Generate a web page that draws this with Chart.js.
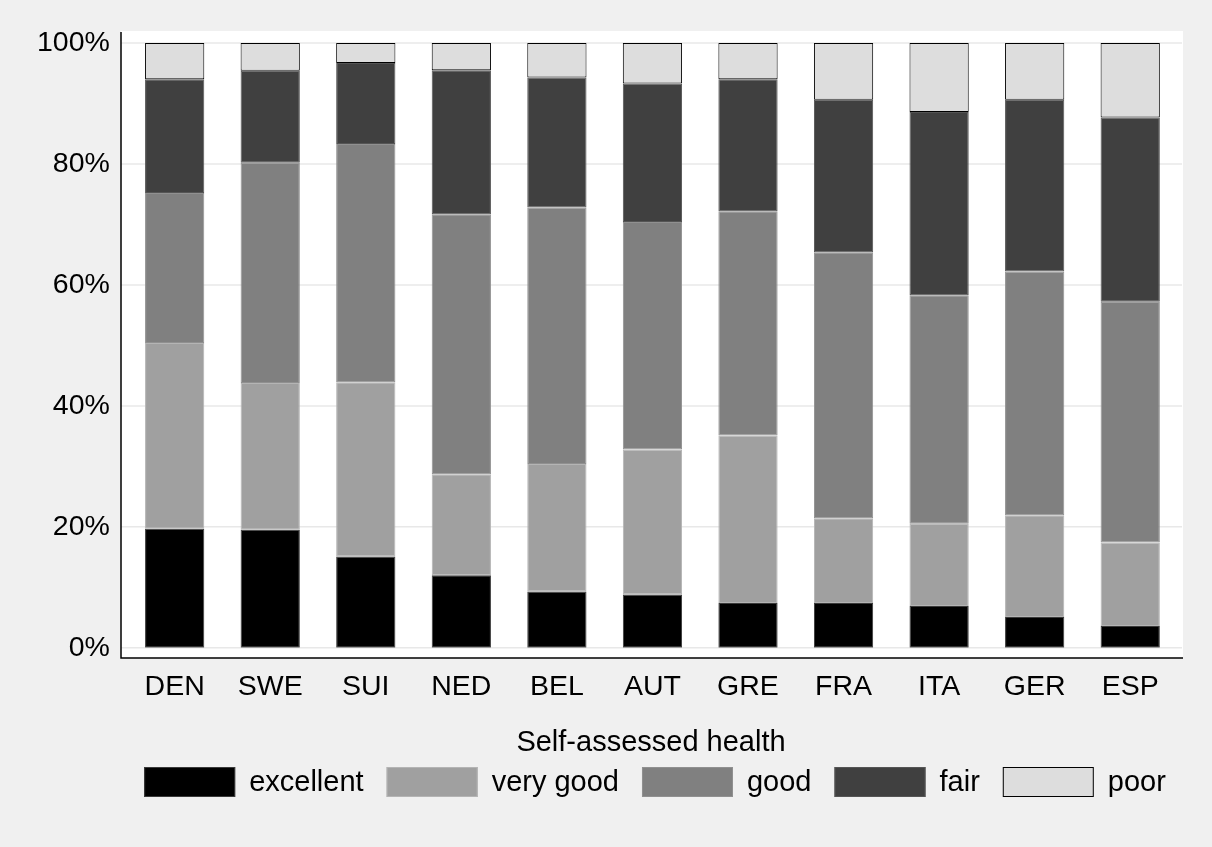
<!DOCTYPE html>
<html>
<head>
<meta charset="utf-8">
<script src="https://cdn.jsdelivr.net/npm/chart.js@4"></script>
<style>
  html, body { margin: 0; padding: 0; background: #f0f0f0; }
  canvas { display: block; }
</style>
</head>
<body>
<canvas id="healthChart" width="1212" height="847"></canvas>
<script>
// countries and share (%) of each answer
const countries = ['DEN', 'SWE', 'SUI', 'NED', 'BEL', 'AUT', 'GRE', 'FRA', 'ITA', 'GER', 'ESP'];
const excellent = [19.7, 19.5, 15.1, 12.0, 9.3, 8.8, 7.4, 7.4, 6.9, 5.1, 3.6];
const veryGood  = [30.7, 24.3, 28.8, 16.7, 21.1, 24.0, 27.7, 14.0, 13.6, 16.8, 13.8];
const good      = [24.8, 36.4, 39.4, 43.0, 42.4, 37.6, 37.1, 44.0, 37.8, 40.3, 39.8];
const fair      = [18.8, 15.2, 13.4, 23.8, 21.5, 22.9, 21.8, 25.2, 30.3, 28.4, 30.5];
const poor      = [6.0, 4.6, 3.3, 4.5, 5.7, 6.7, 6.0, 9.4, 11.4, 9.4, 12.3];
const yTicks = [0, 20, 40, 60, 80, 100];
const legendTitle = 'Self-assessed health';

const fontFam = '"Liberation Sans", Arial, sans-serif';

// Stata-like plot region, grid lines and axis lines
const plotRegion = {
    id: 'plotRegion',
    beforeDraw(chart) {
        const ctx = chart.ctx;
        ctx.save();
        ctx.fillStyle = '#f0f0f0';
        ctx.fillRect(0, 0, chart.width, chart.height);
        ctx.fillStyle = '#ffffff';
        ctx.fillRect(121, 31, 1062, 627);
        const y = chart.scales.y;
        ctx.strokeStyle = '#e8e8e8';
        ctx.lineWidth = 1.5;
        y.ticks.forEach(t => {
            const py = y.getPixelForValue(t.value);
            ctx.beginPath();
            ctx.moveTo(121, py);
            ctx.lineTo(1182, py);
            ctx.stroke();
        });
        ctx.restore();
    },
    afterDraw(chart) {
        const ctx = chart.ctx;
        ctx.save();
        ctx.strokeStyle = '#000000';
        ctx.lineWidth = 1.5;
        ctx.beginPath();
        ctx.moveTo(121, 32);
        ctx.lineTo(121, 658);
        ctx.lineTo(1183, 658);
        ctx.stroke();
        ctx.restore();
    }
};

// legend under the plot, centred on the plot region
const bottomLegend = {
    id: 'bottomLegend',
    afterDraw(chart) {
        const ctx = chart.ctx;
        const sets = chart.data.datasets;
        const boxW = 91, boxH = 30, textGap = 14, itemGap = 23;
        ctx.save();
        ctx.font = '29px ' + fontFam;
        ctx.fillStyle = '#000';
        ctx.textBaseline = 'middle';
        ctx.textAlign = 'center';
        ctx.fillText(legendTitle, 651, 743);

        ctx.textAlign = 'left';
        const widths = sets.map(ds => boxW + textGap + ctx.measureText(ds.label).width);
        const total = widths.reduce((a, b) => a + b, 0) + itemGap * (sets.length - 1);
        let x = 655 - total / 2;
        const top = 767;
        sets.forEach((ds, i) => {
            ctx.fillStyle = ds.backgroundColor;
            ctx.fillRect(x, top, boxW, boxH);
            ctx.strokeStyle = ds.borderColor;
            ctx.lineWidth = 1;
            ctx.strokeRect(x + 0.5, top + 0.5, boxW - 1, boxH - 1);
            ctx.fillStyle = '#000';
            ctx.fillText(ds.label, x + boxW + textGap, top + boxH / 2 + 1);
            x += widths[i] + itemGap;
        });
        ctx.restore();
    }
};

function bars(label, data, fill, edge) {
    return {
        label: label,
        data: data,
        backgroundColor: fill,
        borderColor: edge,
        borderWidth: 1,
        borderSkipped: false,
        barPercentage: 0.62,
        categoryPercentage: 1.0
    };
}

const healthChart = new Chart(document.getElementById('healthChart'), {
    type: 'bar',
    data: {
        labels: countries,
        datasets: [
            bars('excellent', excellent, '#000000', '#3a3a3a'),
            bars('very good', veryGood, '#a0a0a0', '#b4b4b4'),
            bars('good', good, '#808080', '#909090'),
            bars('fair', fair, '#404040', '#555555'),
            bars('poor', poor, '#dddddd', '#000000')
        ]
    },
    options: {
        responsive: false,
        animation: false,
        layout: { padding: { left: 20, right: 34, top: 43, bottom: 121 } },
        scales: {
            x: {
                stacked: true,
                grid: { display: false, drawTicks: false },
                border: { display: false },
                ticks: { color: '#000', font: { family: fontFam, size: 28.5 }, padding: 22 }
            },
            y: {
                stacked: true,
                min: 0,
                max: 100,
                afterBuildTicks(scale) {
                    scale.ticks = yTicks.map(v => ({ value: v }));
                },
                grid: { display: false, drawTicks: false },
                border: { display: false },
                ticks: {
                    color: '#000',
                    font: { family: fontFam, size: 28.5 },
                    padding: 17,
                    callback: v => v + '%'
                }
            }
        },
        plugins: {
            tooltip: { enabled: false },
            legend: { display: false }
        }
    },
    plugins: [plotRegion, bottomLegend]
});
</script>
</body>
</html>
